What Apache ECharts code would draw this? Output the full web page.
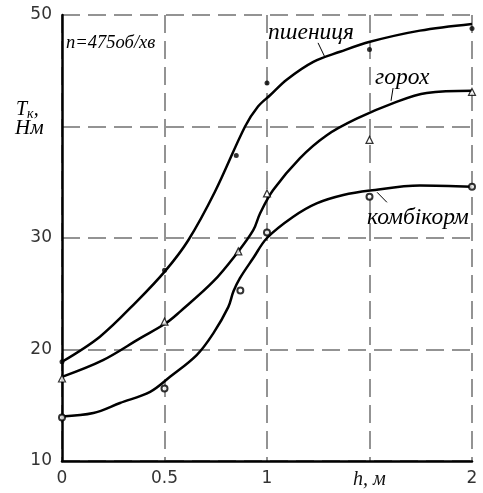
<!DOCTYPE html>
<html><head><meta charset="utf-8">
<script src="https://cdn.jsdelivr.net/npm/echarts@6/dist/echarts.min.js"></script>
<style>html,body{margin:0;padding:0;background:#fff}#c{width:483px;height:493px}</style>
</head><body><div id="c"></div>
<script>
// measured points (h, T)
var wheatPts = [[0,18.9],[0.5,27.1],[0.85,37.4],[1,43.9],[1.5,46.9],[2,48.8]];
var peaPts   = [[0,17.4],[0.5,22.5],[0.86,28.8],[1,34.0],[1.5,38.8],[2,43.1]];
var feedPts  = [[0,13.9],[0.5,16.5],[0.87,25.3],[1,30.5],[1.5,33.7],[2,34.6]];
// fitted curves (h, T)
var wheatCurve = [[0,18.9],[0.185,21.15],[0.364,24.3],[0.506,27.1],[0.616,29.8],[0.746,34.15],[0.893,40.0],[0.956,41.8],[1.015,42.8],[1.096,44.2],[1.226,45.8],[1.356,46.7],[1.502,47.6],[1.746,48.6],[2,49.2]];
var peaCurve = [[0,17.55],[0.2,19.05],[0.38,21.0],[0.506,22.35],[0.576,23.4],[0.738,26.1],[0.852,28.6],[0.933,30.7],[0.966,32.2],[1.03,34.3],[1.16,37.15],[1.29,39.2],[1.437,40.7],[1.616,42.1],[1.779,43.0],[2,43.2]];
var feedCurve = [[0,14.0],[0.153,14.3],[0.283,15.2],[0.43,16.2],[0.527,17.55],[0.657,19.5],[0.738,21.45],[0.811,23.8],[0.836,25.2],[0.868,26.4],[0.933,28.2],[1.0,30.0],[1.128,31.9],[1.242,33.1],[1.372,33.85],[1.502,34.25],[1.746,34.7],[2,34.6]];
var xTicks = [0, 0.5, 1, 1.5, 2];
var xTickLabels = {'0':'0','0.5':'0.5','1':'1','1.5':'{it|h, м}','2':'2'};
var yTicks = [10, 20, 30, 40, 50];
var yTickLabels = {'10':'10','20':'20','30':'30','40':'','50':'50'};
var seriesNames = ['пшениця','горох','комбікорм'];

var chart = echarts.init(document.getElementById('c'), null, {renderer:'canvas'});
var lineStyle = {color:'#000', width:2.5};
function curve(name, data){
  return {name:name, type:'line', data:data, smooth:0.35, showSymbol:false, symbol:'none', lineStyle:lineStyle, z:3, silent:true};
}
var grid = {left:62, top:15, width:410, height:446};
var tickFont = {color:'#333', fontFamily:'DejaVu Sans', fontSize:17};
chart.setOption({
  animation:false,
  backgroundColor:'#fff',
  grid:grid,
  xAxis:{type:'value', min:0, max:2, interval:0.5,
    axisLine:{show:true, onZero:false, lineStyle:{color:'#000', width:2.5}},
    axisTick:{show:false},
    splitLine:{show:true, lineStyle:{color:'#707070', width:1.5, type:[18,8]}},
    axisLabel:Object.assign({margin:9,
      formatter:function(v){return xTickLabels[String(v)];},
      rich:{it:{fontFamily:'Liberation Serif', fontStyle:'italic', fontSize:20, color:'#111'}}}, tickFont)
  },
  yAxis:{type:'value', min:10, max:50, interval:10,
    axisLine:{show:true, onZero:false, lineStyle:{color:'#000', width:2.5}},
    axisTick:{show:false},
    splitLine:{show:true, lineStyle:{color:'#707070', width:1.5, type:[18,8]}},
    axisLabel:Object.assign({margin:10, formatter:function(v){return yTickLabels[String(v)];}}, tickFont)
  },
  series:[
    curve(seriesNames[0], wheatCurve),
    curve(seriesNames[1], peaCurve),
    curve(seriesNames[2], feedCurve),
    {type:'scatter', data:wheatPts, symbol:'circle', symbolSize:5, itemStyle:{color:'#000'}, z:4},
    {type:'scatter', data:peaPts, symbol:'triangle', symbolSize:7, itemStyle:{color:'#fff', borderColor:'#000', borderWidth:1.2}, z:4},
    {type:'scatter', data:feedPts, symbol:'circle', symbolSize:6, itemStyle:{color:'#fff', borderColor:'#000', borderWidth:2}, z:4}
  ]
});

function px(p){ return chart.convertToPixel({gridIndex:0}, p); }
var serif = {fontFamily:'Liberation Serif', fontStyle:'italic', fill:'#000'};
function txt(p, text, size, extra){
  var q = px(p);
  return {type:'text', x:q[0], y:q[1], z:10, style:Object.assign({text:text, fontSize:size, textVerticalAlign:'middle', verticalAlign:'middle'}, serif, extra||{})};
}
function leader(a, b){
  var p1 = px(a), p2 = px(b);
  return {type:'line', z:10, shape:{x1:p1[0], y1:p1[1], x2:p2[0], y2:p2[1]}, style:{stroke:'#000', lineWidth:1}};
}
chart.setOption({graphic:[
  txt([0.02, 47.5], 'n=475об/хв', 18.5),
  txt([1.005, 48.4], seriesNames[0], 23.5),
  leader([1.249, 47.5], [1.283, 46.2]),
  txt([1.527, 44.4], seriesNames[1], 23.5),
  leader([1.615, 43.45], [1.605, 42.3]),
  txt([1.488, 31.8], seriesNames[2], 23.5),
  leader([1.537, 34.1], [1.585, 33.2]),
  {type:'text', left:16, top:100, z:10, style:{text:'{t|T}{s|к},', rich:{t:{fontFamily:'Liberation Serif', fontStyle:'italic', fontSize:20}, s:{fontFamily:'Liberation Serif', fontStyle:'italic', fontSize:14, padding:[8,0,0,0]}}, fontFamily:'Liberation Serif', fontStyle:'italic', fontSize:20, fill:'#000'}},
  {type:'text', left:15, top:118, z:10, style:Object.assign({text:'Нм', fontSize:21}, serif)}
]});
</script></body></html>
